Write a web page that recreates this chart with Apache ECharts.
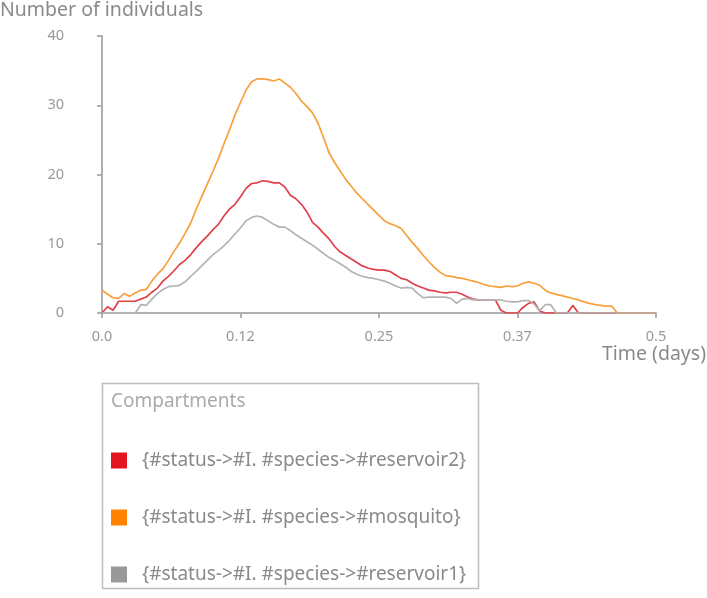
<!DOCTYPE html>
<html>
<head>
<meta charset="utf-8">
<script src="https://cdn.jsdelivr.net/npm/echarts@6/dist/echarts.min.js"></script>
<style>
  html, body { margin: 0; padding: 0; background: #fff; }
  #chart { width: 707px; height: 598px; }
</style>
</head>
<body>
<div id="chart"></div>
<script>
// time in days, step 0.005
var times = [];
for (var i = 0; i <= 100; i++) times.push(+(i * 0.005).toFixed(3));

var xTickLabels = ['0.0', '0.12', '0.25', '0.37', '0.5'];
var seriesNames = [
  '{#status->#I. #species->#reservoir2}',
  '{#status->#I. #species->#mosquito}',
  '{#status->#I. #species->#reservoir1}'
];

var reservoir2 = [
  0, 0.9, 0.4, 1.7, 1.7, 1.7, 1.7, 2.0, 2.3, 3.0,
  3.6, 4.6, 5.3, 6.1, 7.0, 7.6, 8.4, 9.4, 10.3, 11.1,
  12.0, 12.8, 14.0, 15.0, 15.7, 16.8, 18.0, 18.7, 18.8, 19.1,
  19.0, 18.8, 18.8, 18.2, 17.0, 16.5, 15.7, 14.6, 13.1, 12.4,
  11.5, 10.7, 9.6, 8.8, 8.3, 7.8, 7.3, 6.8, 6.5, 6.3,
  6.2, 6.2, 6.0, 5.5, 5.0, 4.8, 4.3, 3.9, 3.6, 3.3,
  3.2, 3.0, 2.9, 3.0, 3.0, 2.7, 2.3, 2.0, 1.9, 1.9,
  1.9, 1.9, 0.4, 0, 0, 0, 0.8, 1.4, 1.6, 0.3,
  0, 0, 0, 0, 0, 1.1, 0, 0, 0, 0,
  0, 0, 0, 0, 0, 0, 0, 0, 0, 0,
  0
];
var mosquito = [
  3.3, 2.7, 2.2, 2.1, 2.8, 2.4, 2.9, 3.3, 3.4, 4.6,
  5.6, 6.4, 7.6, 8.9, 10.1, 11.5, 13.0, 15.0, 16.8, 18.6,
  20.4, 22.3, 24.4, 26.4, 28.6, 30.4, 32.2, 33.4, 33.8, 33.8,
  33.7, 33.5, 33.8, 33.2, 32.6, 31.7, 30.6, 29.8, 28.9, 27.4,
  25.3, 23.1, 21.7, 20.5, 19.3, 18.3, 17.3, 16.5, 15.7, 14.9,
  14.1, 13.3, 12.9, 12.6, 12.2, 11.2, 10.2, 9.3, 8.3, 7.4,
  6.6, 5.9, 5.4, 5.3, 5.1, 5.0, 4.8, 4.6, 4.4, 4.1,
  3.9, 3.8, 3.7, 3.9, 3.8, 3.9, 4.3, 4.5, 4.3, 4.0,
  3.3, 2.9, 2.7, 2.5, 2.3, 2.1, 1.9, 1.6, 1.4, 1.2,
  1.1, 1.0, 1.0, 0, 0, 0, 0, 0, 0, 0,
  0
];
var reservoir1 = [
  0, 0, 0, 0, 0, 0, 0, 1.2, 1.1, 2.0,
  2.8, 3.4, 3.8, 3.9, 4.0, 4.5, 5.3, 6.0, 6.8, 7.6,
  8.4, 9.0, 9.7, 10.5, 11.4, 12.3, 13.3, 13.8, 14.0, 13.8,
  13.3, 12.8, 12.4, 12.4, 11.9, 11.3, 10.8, 10.3, 9.8, 9.2,
  8.6, 8.0, 7.6, 7.1, 6.6, 6.0, 5.6, 5.3, 5.1, 5.0,
  4.8, 4.6, 4.3, 3.9, 3.6, 3.7, 3.6, 2.8, 2.2, 2.3,
  2.3, 2.3, 2.3, 2.1, 1.4, 2.0, 2.1, 1.9, 1.9, 1.9,
  1.9, 1.9, 1.9, 1.7, 1.6, 1.6, 1.8, 1.8, 1.3, 0.3,
  1.2, 1.2, 0, 0, 0, 0, 0, 0, 0, 0,
  0, 0, 0, 0, 0, 0, 0, 0, 0, 0,
  0
];

function pairs(vals) {
  return vals.map(function (v, i) { return [times[i], v]; });
}

var chart = echarts.init(document.getElementById('chart'));
var font = '"Noto Sans", sans-serif';

chart.setOption({
  animation: false,
  textStyle: { fontFamily: font },
  grid: { left: 102, right: 51, top: 36, bottom: 285 },
  xAxis: {
    type: 'value',
    min: 0,
    max: 0.5,
    interval: 0.125,
    axisLine: { lineStyle: { color: '#b0b0b0', width: 2 } },
    axisTick: { length: 5, lineStyle: { color: '#b0b0b0', width: 2 } },
    axisLabel: {
      margin: 16,
      fontSize: 14.5,
      color: '#999',
      fontFamily: font,
      formatter: function (v) { return xTickLabels[Math.round(v / 0.125)]; }
    },
    splitLine: { show: false }
  },
  yAxis: {
    type: 'value',
    min: 0,
    max: 40,
    interval: 10,
    axisLine: { show: true, lineStyle: { color: '#b0b0b0', width: 2 } },
    axisTick: { show: true, length: 5, lineStyle: { color: '#b0b0b0', width: 2 } },
    axisLabel: { margin: 38, fontSize: 14.5, color: '#999', fontFamily: font },
    splitLine: { show: false }
  },
  legend: {
    orient: 'vertical',
    left: 111,
    top: 451,
    padding: 0,
    itemGap: 38,
    itemWidth: 16,
    itemHeight: 16,
    icon: 'rect',
    selectedMode: false,
    data: seriesNames,
    textStyle: { fontSize: 19, lineHeight: 16, color: '#8a8a8a', fontFamily: font, padding: [0, 0, 0, 10] }
  },
  graphic: [
    {
      type: 'text', left: 0, top: 0,
      style: { text: 'Number of individuals', fontSize: 19.5, fill: '#8a8a8a', fontFamily: font }
    },
    {
      type: 'text', right: 1, top: 344,
      style: { text: 'Time (days)', fontSize: 19.5, fill: '#8a8a8a', fontFamily: font }
    },
    {
      type: 'rect',
      shape: { x: 102.5, y: 383.5, width: 376, height: 205 },
      style: { fill: 'none', stroke: '#bdbdbd', lineWidth: 1.5 }
    },
    {
      type: 'text', left: 111, top: 392,
      style: { text: 'Compartments', fontSize: 19, fill: '#aaa', fontFamily: font }
    }
  ],
  series: [
    {
      name: seriesNames[0], type: 'line', data: pairs(reservoir2),
      showSymbol: false,
      itemStyle: { color: '#e3161f' },
      lineStyle: { color: '#e0404a', width: 1.7 }
    },
    {
      name: seriesNames[1], type: 'line', data: pairs(mosquito),
      showSymbol: false,
      itemStyle: { color: '#ff8200' },
      lineStyle: { color: '#f7a03c', width: 1.7 }
    },
    {
      name: seriesNames[2], type: 'line', data: pairs(reservoir1),
      showSymbol: false,
      itemStyle: { color: '#999' },
      lineStyle: { color: '#b4b4b4', width: 1.7 }
    }
  ]
});
</script>
</body>
</html>
